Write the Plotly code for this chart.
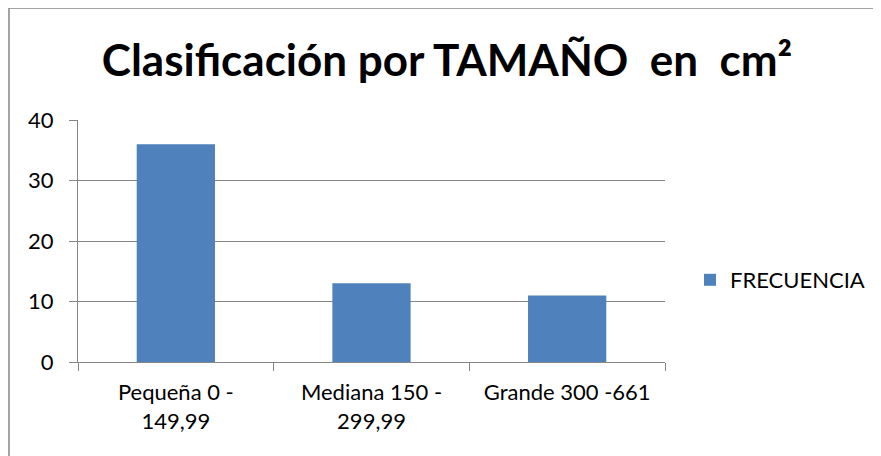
import plotly.graph_objects as go

categories = ["Pequeña 0 -<br>149,99", "Mediana 150 -<br>299,99", "Grande 300 -661"]
values = [36, 13, 11]
series_name = "FRECUENCIA"
title_text = "Clasificación por TAMAÑO  en  cm²"

W, H = 881, 456
OFF = 8  # page body margin offset
L, R, T, B = 78 - OFF, 665 - OFF, 120 - OFF, 362 - OFF  # plot area pixel bounds

def px_x(p):
    return (p - OFF - L) / (R - L)

def px_y(p):
    return (B - (p - OFF)) / (B - T)

fig = go.Figure()
fig.add_trace(go.Bar(
    x=categories, y=values, name=series_name,
    marker=dict(color="#4F81BD", line=dict(width=0)),
    showlegend=True,
))

font_family = "Lato, 'Open Sans', sans-serif"

fig.update_layout(
    width=W, height=H,
    margin=dict(l=L, r=W - R, t=T, b=H - B, pad=0, autoexpand=False),
    paper_bgcolor="white", plot_bgcolor="white",
    bargap=0.6,
    font=dict(family=font_family, size=22, color="black"),
    title=dict(text="<b>" + title_text + "</b>", x=(447 - OFF) / W, xanchor="center",
               y=1 - (61 - OFF) / H, yanchor="middle",
               font=dict(family=font_family, size=44, color="black")),
    showlegend=True,
    legend=dict(x=px_x(690), xanchor="left", y=px_y(280), yanchor="middle",
                font=dict(size=22, color="black"), bgcolor="rgba(0,0,0,0)",
                itemwidth=30),
    xaxis=dict(showline=True, linecolor="#868686", linewidth=1,
               ticks="outside", ticklen=8, tickcolor="#868686",
               tickson="boundaries", showgrid=False, ticklabelstandoff=11,
               tickfont=dict(size=22, color="black")),
    yaxis=dict(range=[0, 40], dtick=10, showline=True, linecolor="#868686",
               linewidth=1, ticks="outside", ticklen=8, tickcolor="#868686",
               showgrid=True, gridcolor="#868686", gridwidth=1,
               ticklabelstandoff=11,
               zeroline=False, tickfont=dict(size=22, color="black")),
)

fig.add_shape(type="rect", xref="paper", yref="paper",
              x0=px_x(9), x1=px_x(W + 30), y0=px_y(H + 30), y1=px_y(8),
              line=dict(color="#868686", width=1.5), fillcolor="rgba(0,0,0,0)",
              layer="below")

fig.write_html("out.html")
